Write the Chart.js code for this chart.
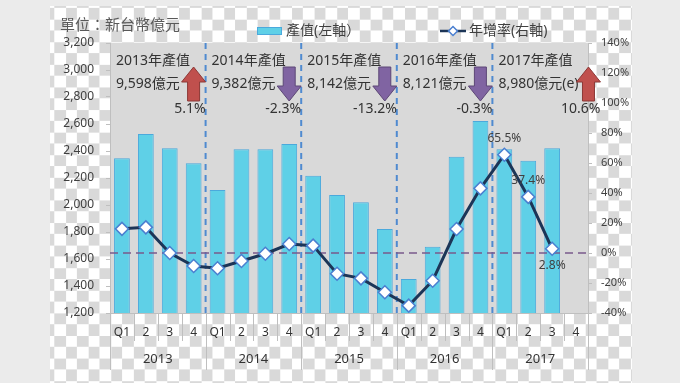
<!DOCTYPE html>
<html><head><meta charset="utf-8">
<script src="https://cdn.jsdelivr.net/npm/chart.js@4/dist/chart.umd.min.js"></script>
<style>
html,body{margin:0;padding:0;width:680px;height:383px;overflow:hidden;background:#ebebeb;}
#checker{position:absolute;left:50px;top:6px;width:582px;height:377px;background-color:#fff;
 background-image:conic-gradient(#d9d9d9 25%, #ffffff 0 50%, #d9d9d9 0 75%, #ffffff 0);
 background-size:22.6px 22.6px;background-position:4.3px 1.9px;}
#wrap{position:absolute;left:0;top:0;width:680px;height:383px;}
</style></head><body>
<div id="checker"></div>
<div id="wrap"><canvas id="c" width="680" height="383"></canvas></div>
<script>
// ---- data ----
const quarterLabels = ['Q1','2','3','4','Q1','2','3','4','Q1','2','3','4','Q1','2','3','4','Q1','2','3','4'];
const years = ['2013','2014','2015','2016','2017'];
const outputValues = [2346,2526,2420,2309, 2111,2413,2413,2452, 2217,2074,2020,1822, 1452,1691,2358,2622, 2413,2328,2420,null];
const growthValues = [16.1,17.1,0.0,-8.7, -10.2,-5.3,-0.5,6.0, 4.9,-13.8,-16.9,-26.2, -35.1,-18.5,16.0,43.1, 65.5,37.4,2.8,null];
const annualOutput = ['9,598','9,382','8,142','8,121','8,980'];
const annualSuffix = ['','','','','(e)'];
const annualGrowth = [5.1,-2.3,-13.2,-0.3,10.6];
const labeledPoints = [16,17,18];
const labelBelow = [false,false,true];
const titleText = '單位：新台幣億元';
const barLegend = '產值(左軸）';
const lineLegend = '年增率(右軸)';

const FONT = "'Noto Sans','Noto Sans CJK TC',sans-serif";
const TXT = '#404040';
const BAR = '#5fd0e7', BAR_BORDER = '#4ba9dc';
const LINE = '#1c3557', MARK_BORDER = '#4a7fd0';

function drawArrow(ctx, cx, top, bottom, up, fill, stroke){
  const hw = 12, sw = 6, hl = 15;
  ctx.save();
  ctx.beginPath();
  if(up){
    ctx.moveTo(cx, top);
    ctx.lineTo(cx+hw, top+hl); ctx.lineTo(cx+sw, top+hl); ctx.lineTo(cx+sw, bottom);
    ctx.lineTo(cx-sw, bottom); ctx.lineTo(cx-sw, top+hl); ctx.lineTo(cx-hw, top+hl);
  } else {
    ctx.moveTo(cx, bottom);
    ctx.lineTo(cx+hw, bottom-hl); ctx.lineTo(cx+sw, bottom-hl); ctx.lineTo(cx+sw, top);
    ctx.lineTo(cx-sw, top); ctx.lineTo(cx-sw, bottom-hl); ctx.lineTo(cx-hw, bottom-hl);
  }
  ctx.closePath();
  ctx.fillStyle = fill; ctx.fill();
  ctx.lineWidth = 1; ctx.strokeStyle = stroke; ctx.stroke();
  ctx.restore();
}

const deco = {
  id:'deco',
  beforeDraw(chart){
    const a = chart.chartArea, ctx = chart.ctx;
    ctx.save(); ctx.fillStyle = '#d9d9d9';
    ctx.fillRect(a.left, a.top, a.right-a.left, a.bottom-a.top); ctx.restore();
  },
  afterDatasetDraw(chart, args){
    if(args.meta.type !== 'bar') return;
    const a = chart.chartArea, ctx = chart.ctx, xs = chart.scales.x, y1 = chart.scales.y1;
    ctx.save();
    // year dividers
    ctx.strokeStyle = '#4f8ad0'; ctx.lineWidth = 2; ctx.setLineDash([6,5]);
    for(let k=1;k<years.length;k++){
      const x = (xs.getPixelForValue(4*k-1) + xs.getPixelForValue(4*k))/2;
      ctx.beginPath(); ctx.moveTo(x, a.top); ctx.lineTo(x, a.bottom); ctx.stroke();
    }
    // zero growth line
    const y0 = y1.getPixelForValue(0);
    ctx.strokeStyle = '#7a5a8c'; ctx.lineWidth = 1.5; ctx.setLineDash([8,5]);
    ctx.beginPath(); ctx.moveTo(a.left, y0); ctx.lineTo(a.right, y0); ctx.stroke();
    ctx.restore();
  },
  afterDraw(chart){
    const a = chart.chartArea, ctx = chart.ctx, xs = chart.scales.x;
    const half = (xs.getPixelForValue(1) - xs.getPixelForValue(0))/2;
    ctx.save();
    // category separators
    ctx.strokeStyle = '#bfbfbf'; ctx.lineWidth = 1;
    for(let i=0;i<=quarterLabels.length;i++){
      const x = Math.round(i < quarterLabels.length ? xs.getPixelForValue(i) - half : xs.getPixelForValue(i-1) + half) + 0.5;
      const len = (i % 4 === 0) ? 57 : 28;
      ctx.beginPath(); ctx.moveTo(x, a.bottom); ctx.lineTo(x, a.bottom+len); ctx.stroke();
    }
    // year labels
    ctx.fillStyle = '#333'; ctx.font = '13px ' + FONT; ctx.textAlign = 'center'; ctx.textBaseline = 'middle';
    years.forEach((yr,k)=>{
      const cx = (xs.getPixelForValue(4*k) + xs.getPixelForValue(4*k+3))/2;
      ctx.fillText(yr, cx, a.bottom + 46);
    });
    // title
    ctx.fillStyle = '#595959'; ctx.font = '15px ' + FONT; ctx.textAlign = 'left';
    ctx.fillText(titleText, 60, 26);
    // legend
    ctx.fillStyle = BAR; ctx.fillRect(257, 27, 25, 8);
    ctx.strokeStyle = BAR_BORDER; ctx.strokeRect(257.5, 27.5, 24, 7);
    ctx.fillStyle = TXT; ctx.font = '14px ' + FONT;
    ctx.fillText(barLegend, 286, 31);
    ctx.strokeStyle = LINE; ctx.lineWidth = 2.5;
    ctx.beginPath(); ctx.moveTo(440, 31); ctx.lineTo(466, 31); ctx.stroke();
    ctx.beginPath(); ctx.moveTo(453-4.5, 31); ctx.lineTo(453, 26.5); ctx.lineTo(457.5, 31); ctx.lineTo(453, 35.5); ctx.closePath();
    ctx.fillStyle = '#fff'; ctx.fill(); ctx.strokeStyle = MARK_BORDER; ctx.lineWidth = 1.5; ctx.stroke();
    ctx.fillStyle = TXT; ctx.fillText(lineLegend, 469, 31);
    // annual annotations
    years.forEach((yr,k)=>{
      const gl = xs.getPixelForValue(4*k) - half;
      const gr = xs.getPixelForValue(4*k+3) + half;
      ctx.font = '14px ' + FONT; ctx.fillStyle = '#333'; ctx.textAlign = 'left';
      ctx.fillText(yr + '年產值', gl + 6, 61);
      const l2 = annualOutput[k] + '億元' + annualSuffix[k];
      ctx.fillText(l2, gl + 6, 84);
      const l2end = gl + 6 + ctx.measureText(l2).width;
      const ax = Math.max(gr - 12, l2end + 10);
      const up = annualGrowth[k] > 0;
      drawArrow(ctx, ax, 67, 101, up, up ? '#c0504d' : '#8064a2', up ? '#8c3836' : '#5c4776');
      ctx.fillStyle = '#333'; ctx.textAlign = 'right';
      ctx.fillText(annualGrowth[k].toFixed(1) + '%', ax + 12, 109);
    });
    // point labels
    const meta = chart.getDatasetMeta(1);
    ctx.font = '12px ' + FONT; ctx.fillStyle = TXT; ctx.textAlign = 'center';
    labeledPoints.forEach((idx,j)=>{
      const pt = meta.data[idx];
      ctx.fillText(growthValues[idx].toFixed(1) + '%', pt.x, pt.y + (labelBelow[j] ? 17 : -16));
    });
    ctx.restore();
  }
};

new Chart(document.getElementById('c'), {
  data: {
    labels: quarterLabels,
    datasets: [
      { type:'bar', label:barLegend, data:outputValues, yAxisID:'y', order:1,
        backgroundColor:BAR, borderColor:BAR_BORDER, borderWidth:1,
        categoryPercentage:1, barPercentage:0.66 },
      { type:'line', label:lineLegend, data:growthValues, yAxisID:'y1', order:0,
        borderColor:LINE, borderWidth:3, tension:0, spanGaps:false,
        pointStyle:'rectRot', pointRadius:6.5, pointBackgroundColor:'#fff',
        pointBorderColor:MARK_BORDER, pointBorderWidth:1.5 }
    ]
  },
  options: {
    responsive:false, animation:false,
    layout:{ padding:{ left:50, right:32, top:43, bottom:8 } },
    plugins:{ legend:{display:false}, tooltip:{enabled:false} },
    scales:{
      x:{ grid:{display:false, drawTicks:false}, border:{color:'#bfbfbf'},
          ticks:{ font:{size:12, family:FONT}, color:'#333', padding:12, autoSkip:false, maxRotation:0 },
          afterFit(s){ s.height = 62; } },
      y:{ position:'left', min:1200, max:3200,
          grid:{ drawOnChartArea:false, color:'#bfbfbf', tickLength:4 }, border:{color:'#bfbfbf'},
          ticks:{ stepSize:200, padding:12, font:{size:12, family:FONT}, color:TXT,
                  callback:v => v.toLocaleString('en-US') },
          afterFit(s){ s.width = 60; } },
      y1:{ position:'right', min:-40, max:140,
          grid:{ drawOnChartArea:false, color:'#bfbfbf', tickLength:4 }, border:{color:'#bfbfbf'},
          ticks:{ stepSize:20, padding:9, font:{size:11, family:FONT}, color:TXT,
                  callback:v => v + '%' },
          afterFit(s){ s.width = 60; } }
    }
  },
  plugins:[deco]
});
</script>
</body></html>
